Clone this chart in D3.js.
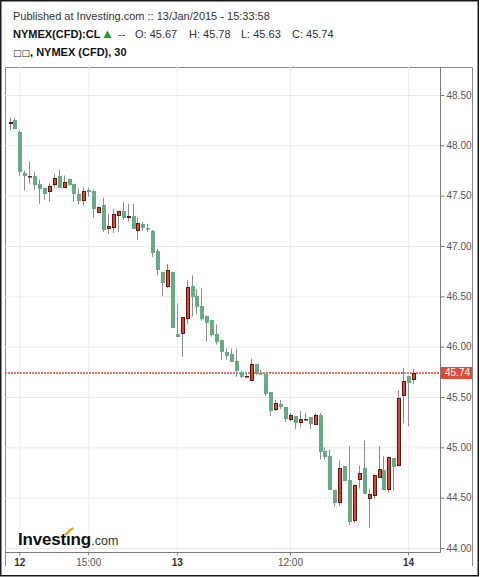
<!DOCTYPE html>
<html><head><meta charset="utf-8">
<script src="https://cdn.jsdelivr.net/npm/d3@7"></script>
<style>html,body{margin:0;padding:0;background:#fff;} svg{display:block;}</style>
</head><body><svg id="c" width="480" height="577"></svg>
<script>
// ---- data (30-minute candles) ----
const opens  = [48.21,48.25,48.13,47.73,47.69,47.70,47.62,47.58,47.54,47.61,47.70,47.58,47.67,47.62,47.52,47.45,47.56,47.55,47.33,47.41,
                47.17,47.18,47.30,47.35,47.28,47.30,47.15,47.22,47.18,47.15,46.95,46.74,46.59,46.74,46.13,46.13,46.27,46.60,46.50,46.40,
                46.30,46.26,46.13,46.07,45.95,45.93,45.86,45.75,45.70,45.66,45.83,45.74,45.73,45.55,45.37,45.43,45.40,45.27,45.31,45.24,
                45.27,45.30,45.22,45.32,44.96,44.91,44.58,44.45,44.81,44.68,44.27,44.68,44.79,44.49,44.52,44.70,44.77,44.58,44.89,44.81,
                45.51,45.71,45.67];
const highs  = [48.28,48.27,48.15,47.75,47.84,47.74,47.66,47.58,47.62,47.72,47.76,47.70,47.67,47.62,47.57,47.58,47.58,47.56,47.39,47.48,
                47.32,47.37,47.35,47.44,47.42,47.42,47.29,47.24,47.22,47.16,46.97,46.74,46.82,46.74,46.43,46.29,46.66,46.71,46.57,46.58,
                46.31,46.26,46.22,46.07,45.98,45.98,45.98,45.76,45.75,45.88,45.83,45.77,45.73,45.55,45.47,45.47,45.40,45.34,45.31,45.36,
                45.34,45.30,45.34,45.34,45.00,44.98,44.58,44.87,44.81,45.01,44.63,44.82,45.07,44.59,44.73,45.01,44.91,44.91,44.89,45.57,
                45.79,45.71,45.78];
const lows   = [48.15,48.16,47.70,47.55,47.62,47.56,47.42,47.46,47.44,47.58,47.58,47.58,47.60,47.44,47.41,47.40,47.49,47.28,47.33,47.14,
                47.12,47.13,47.14,47.26,47.24,47.17,47.06,47.15,47.14,46.89,46.71,46.50,46.58,46.19,46.10,45.90,46.22,46.30,46.32,46.26,
                46.05,46.10,46.02,45.87,45.87,45.85,45.70,45.69,45.69,45.66,45.72,45.72,45.51,45.31,45.36,45.38,45.25,45.26,45.18,45.20,
                45.26,45.18,45.22,44.88,44.88,44.58,44.41,44.42,44.67,44.23,44.25,44.59,44.54,44.20,44.49,44.70,44.58,44.55,44.57,44.81,
                45.24,45.21,45.63];
const closes = [48.23,48.16,47.74,47.70,47.70,47.61,47.57,47.52,47.60,47.68,47.58,47.64,47.61,47.52,47.45,47.55,47.54,47.37,47.39,47.16,
                47.20,47.32,47.35,47.28,47.30,47.17,47.23,47.18,47.17,46.93,46.76,46.63,46.76,46.19,46.10,46.29,46.59,46.49,46.39,46.27,
                46.24,46.12,46.05,45.95,45.91,45.85,45.76,45.70,45.71,45.83,45.74,45.73,45.53,45.36,45.44,45.40,45.28,45.32,45.24,45.28,
                45.28,45.23,45.32,44.95,44.90,44.58,44.45,44.79,44.67,44.26,44.63,44.75,44.54,44.54,44.73,44.78,44.58,44.90,44.80,45.49,
                45.66,45.64,45.74];
const tickIndex  = [2, 16, 34, 57, 81];
const tickLabels = ["12", "15:00", "13", "12:00", "14"];
const dayLabels  = ["12", "13", "14"];
const priceTicks = [44, 44.5, 45, 45.5, 46, 46.5, 47, 47.5, 48, 48.5];
const titleLine1 = "Published at Investing.com :: 13/Jan/2015 - 15:33:58";
const symbolName = "NYMEX(CFD):CL";
const titleLine3a = "\u25A1\u25A1";
const titleLine3b = ", NYMEX (CFD), 30";

// ---- layout ----
const svg = d3.select("#c");
const FONT = "Arial, 'Liberation Sans', sans-serif";
const P = {l: 5, r: 440, t: 67, b: 552};
const n = opens.length;
const last = n - 1;
const lastPrice = closes[last];

const x = d3.scaleLinear().domain([0, n - 1]).range([9.5, 413]);
const y = d3.scaleLinear().domain([44, 48.5]).range([548, 95]);

// outer border
svg.append("rect").attr("x", 0.75).attr("y", 0.75).attr("width", 477.5).attr("height", 575)
  .attr("fill", "none").attr("stroke", "#1a1a1a").attr("stroke-width", 1.5);
// container frame
svg.append("path").attr("d", "M5.5,566V67.5H472.5V566").attr("fill", "none").attr("stroke", "#8a8a8a");

// header
svg.append("text").attr("x", 13).attr("y", 20).attr("font-family", FONT).attr("font-size", 11)
  .attr("fill", "#333").text(titleLine1);
svg.append("text").attr("x", 13).attr("y", 38).attr("font-family", FONT).attr("font-size", 11)
  .attr("font-weight", "bold").attr("fill", "#111").text(symbolName);
svg.append("path").attr("d", "M103.5,38L107.5,30.5L111.5,38Z").attr("fill", "#1fa31f");
const fmt2 = d3.format(".2f");
const hdr = [["--", 118], ["O: " + fmt2(opens[last]), 135], ["H: " + fmt2(highs[last]), 189],
             ["L: " + fmt2(lows[last]), 241], ["C: " + fmt2(closes[last]), 292]];
svg.selectAll("text.hdr").data(hdr).join("text").attr("class", "hdr")
  .attr("x", d => d[1]).attr("y", 38).attr("font-family", FONT).attr("font-size", 11)
  .attr("fill", "#333").text(d => d[0]);
const t3 = svg.append("text").attr("x", 13).attr("y", 56).attr("font-family", FONT).attr("fill", "#111");
t3.append("tspan").attr("font-family", "'DejaVu Sans', sans-serif").attr("font-size", 9).text(titleLine3a);
t3.append("tspan").attr("font-size", 11).attr("font-weight", "bold").text(titleLine3b);

// grid
const gy = svg.append("g").attr("transform", `translate(${P.l},0)`)
  .call(d3.axisRight(y).tickValues(priceTicks).tickSize(P.r - P.l).tickFormat(""));
gy.select(".domain").remove();
gy.selectAll("line").attr("stroke", "#e9e9e9");
const gx = svg.append("g").attr("transform", `translate(0,${P.b})`)
  .call(d3.axisBottom(x).tickValues(tickIndex).tickSize(-(P.b - P.t)).tickFormat(""));
gx.select(".domain").remove();
gx.selectAll("line").attr("stroke", "#eeeeee");

// logo
const logo = svg.append("text").attr("x", 18).attr("y", 544.5).attr("font-family", FONT)
  .attr("font-size", 17).attr("font-weight", "bold").attr("fill", "#111").attr("letter-spacing", -0.2)
  .text("Invest\u0131ng");
const ln = logo.node();
const lw = ln.getComputedTextLength();
svg.append("text").attr("x", 18 + lw + 0.5).attr("y", 544.5).attr("font-family", FONT)
  .attr("font-size", 12.5).attr("fill", "#333").text(".com");
const ip = ln.getStartPositionOfChar(6);
const iw = ln.getExtentOfChar(6).width;
const icx = ip.x + iw / 2;
svg.append("path").attr("d", `M${icx - 1.8},534.2Q${icx + 0.5},530.5 ${icx + 4.2},528.6`)
  .attr("fill", "none").attr("stroke", "#f5a11c").attr("stroke-width", 2.4).attr("stroke-linecap", "round");

// last price dotted line
const yl = Math.round(y(lastPrice));
svg.append("line").attr("x1", P.l).attr("x2", P.r).attr("y1", yl).attr("y2", yl)
  .attr("stroke", "#ee7262").attr("stroke-width", 2).attr("stroke-dasharray", "2,1");

// candles
const data = opens.map((o, i) => ({i, o, h: highs[i], l: lows[i], c: closes[i]}));
const cg = svg.append("g");
cg.selectAll("line.wick").data(data).join("line").attr("class", "wick")
  .attr("x1", d => Math.round(x(d.i)) + 0.5).attr("x2", d => Math.round(x(d.i)) + 0.5)
  .attr("y1", d => y(d.h)).attr("y2", d => y(d.l))
  .attr("stroke", "#8d8d8d").attr("stroke-width", 1);
const up = data.filter(d => d.c >= d.o), dn = data.filter(d => d.c < d.o);
cg.selectAll("rect.dn").data(dn).join("rect").attr("class", "dn")
  .attr("x", d => Math.round(x(d.i)) - 1).attr("width", 4)
  .attr("y", d => Math.round(y(d.o)))
  .attr("height", d => Math.max(1.5, Math.round(y(d.c)) - Math.round(y(d.o))))
  .attr("fill", "#67ab85");
cg.selectAll("rect.up").data(up).join("rect").attr("class", "up")
  .attr("x", d => Math.round(x(d.i)) - 0.5).attr("width", 3)
  .attr("y", d => Math.round(y(d.c)) + 0.5)
  .attr("height", d => Math.max(0.5, Math.round(y(d.o)) - Math.round(y(d.c)) - 1))
  .attr("fill", "#dc4630").attr("stroke", "#5e1a10").attr("stroke-width", 1);

// axes lines
svg.append("line").attr("x1", P.r + 0.5).attr("x2", P.r + 0.5).attr("y1", P.t).attr("y2", P.b + 0.5)
  .attr("stroke", "#7a7a7a");
svg.append("line").attr("x1", P.l).attr("x2", P.r + 0.5).attr("y1", P.b + 0.5).attr("y2", P.b + 0.5)
  .attr("stroke", "#7a7a7a");

// y axis
const ya = svg.append("g").attr("transform", `translate(${P.r + 0.5},0)`)
  .call(d3.axisRight(y).tickValues(priceTicks).tickSize(4).tickPadding(2).tickFormat(d3.format(".2f")));
ya.select(".domain").remove();
ya.selectAll("line").attr("stroke", "#7a7a7a");
ya.selectAll("text").attr("font-family", FONT).attr("font-size", 10).attr("fill", "#555");

// x axis
const xa = svg.append("g").attr("transform", `translate(0,${P.b + 0.5})`)
  .call(d3.axisBottom(x).tickValues(tickIndex).tickSize(3).tickPadding(3).tickFormat((d, i) => tickLabels[i]));
xa.select(".domain").remove();
xa.selectAll("line").attr("stroke", "#7a7a7a");
xa.selectAll("text").attr("font-family", FONT).attr("font-size", 10)
  .attr("font-weight", (d, i) => dayLabels.includes(tickLabels[i]) ? "bold" : "normal")
  .attr("fill", (d, i) => dayLabels.includes(tickLabels[i]) ? "#333" : "#555");

// last price label
const yb = y(lastPrice);
svg.append("rect").attr("x", P.r + 1).attr("y", Math.round(yb) - 6).attr("width", 31).attr("height", 12)
  .attr("fill", "#de4a33");
svg.append("text").attr("x", P.r + 5).attr("y", yb + 3.6).attr("font-family", FONT).attr("font-size", 10)
  .attr("fill", "#fff").text(fmt2(lastPrice));
</script></body></html>
